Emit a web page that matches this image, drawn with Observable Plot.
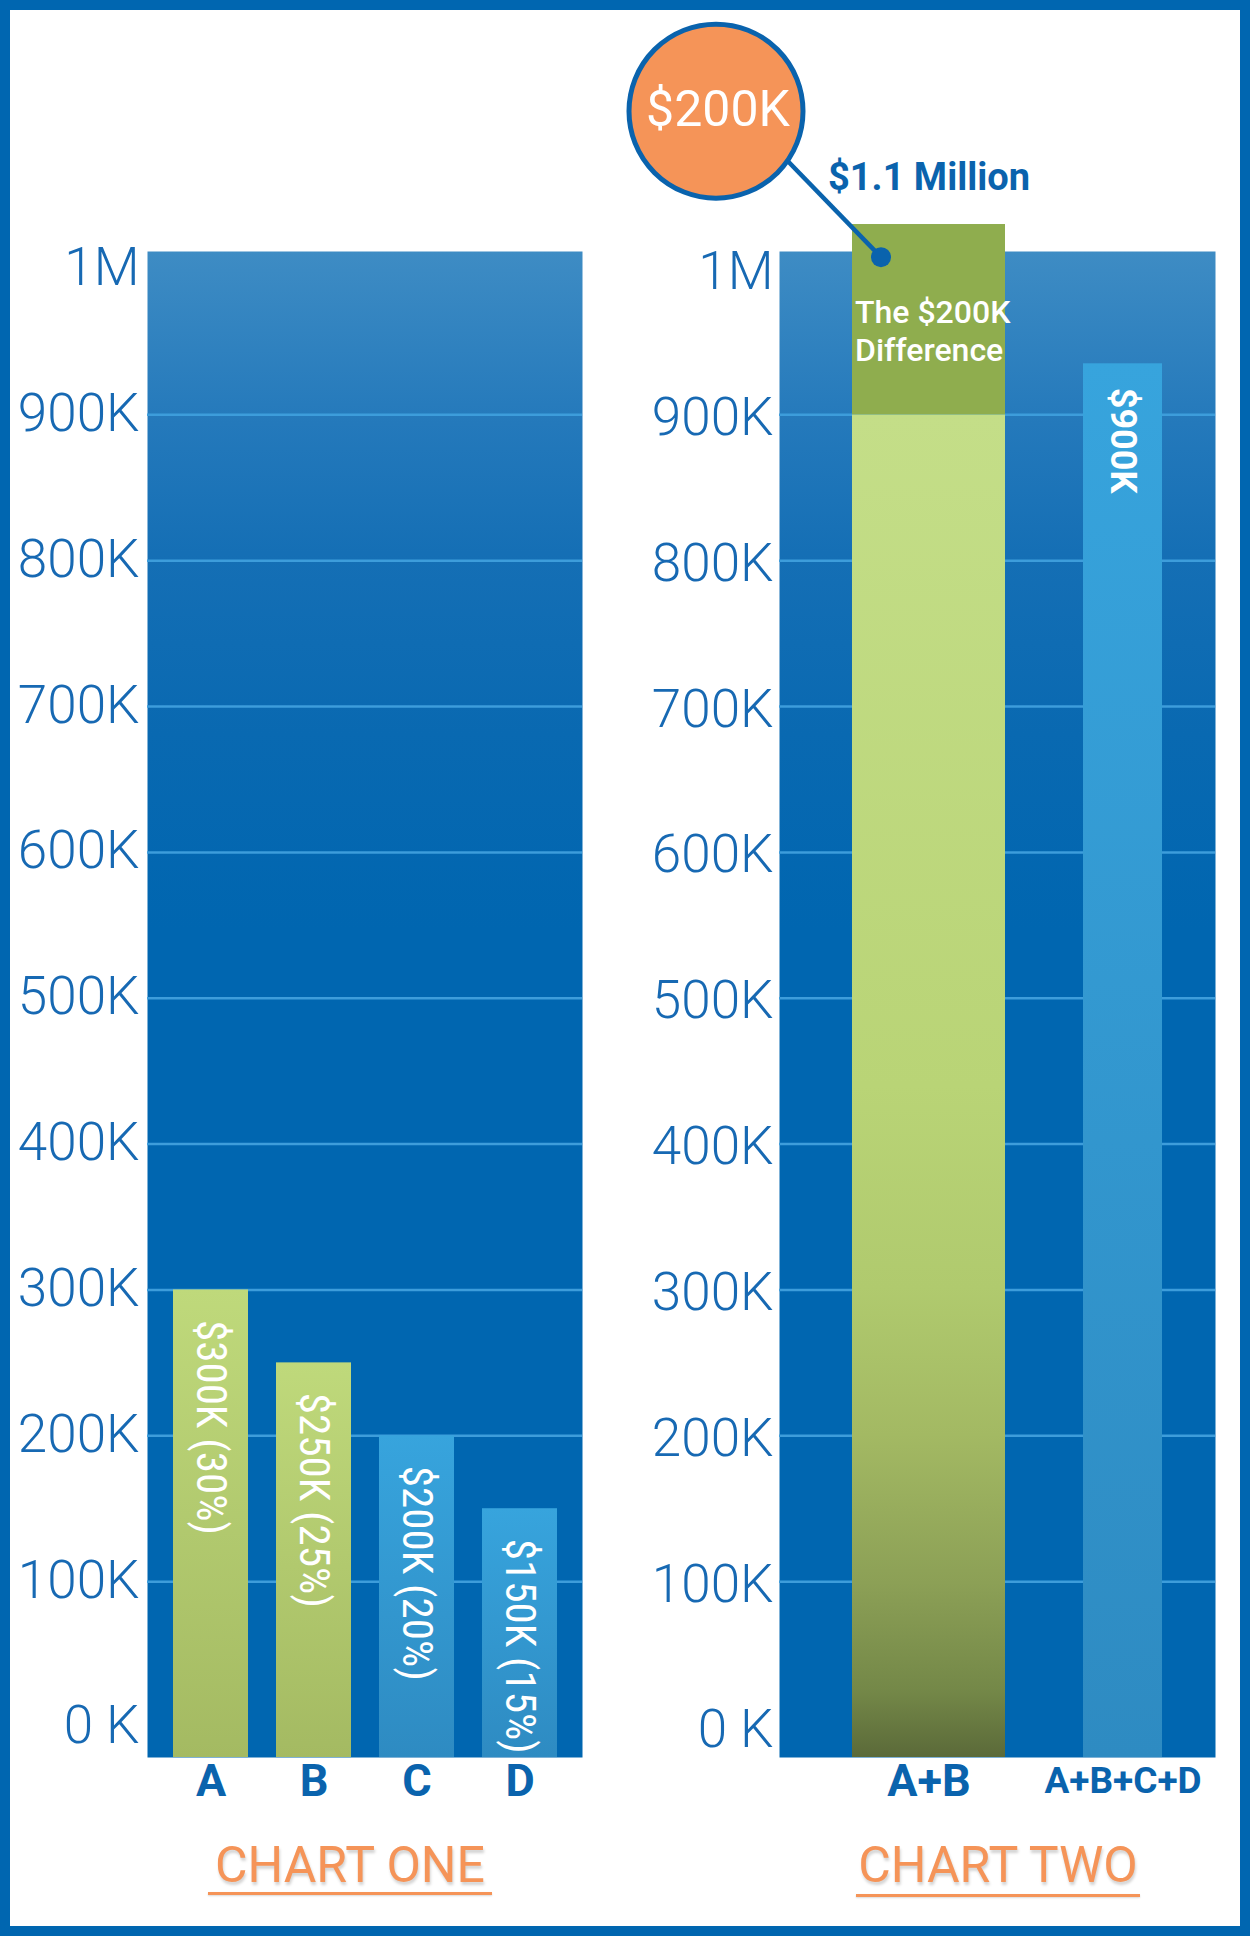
<!DOCTYPE html>
<html>
<head>
<meta charset="utf-8">
<script src="https://cdn.jsdelivr.net/npm/d3@7"></script>
<script src="https://cdn.jsdelivr.net/npm/@observablehq/plot@0.6"></script>
<style>
  html, body { margin: 0; padding: 0; background: #fff; }
  #page { position: relative; width: 1250px; height: 1936px; background: #fff; overflow: hidden; font-family: Roboto, "Noto Sans", sans-serif; }
  #border { position: absolute; left: 0; top: 0; width: 1250px; height: 1936px; box-sizing: border-box; border: 10px solid #0066b0; pointer-events: none; z-index: 10; }
  #page svg { position: absolute; top: 0; overflow: visible; }
  g[aria-label="barlabel"] text { filter: drop-shadow(1px 2px 2px rgba(0,0,0,0.55)); }
  g[aria-label="circlelabel"] text { filter: drop-shadow(2px 3px 4px rgba(90,30,0,0.6)); }
  g[aria-label="catlabel"] text { filter: drop-shadow(1px 3px 2px rgba(0,0,0,0.25)); }
  .title { position: absolute; top: 1840px; font: 400 50px Roboto, sans-serif; line-height: 50px; color: #f59458; transform: translateX(-50%); white-space: nowrap; text-shadow: 1px 3px 3px rgba(0,0,0,0.18); }
  .uline { position: absolute; height: 3px; background: #f59458; box-shadow: 0 1px 2px rgba(0,0,0,0.15); }
</style>
</head>
<body>
<div id="page"><div id="border"></div></div>
<script>
// ---------- data ----------
const cats1 = ["A", "B", "C", "D"];
const vals1 = [300000, 250000, 200000, 150000];
const labels1 = ["$300K (30%)", "$250K (25%)", "$200K (20%)", "$150K (15%)"];
const groups1 = ["green", "green", "blue", "blue"];

const cats2 = ["A+B", "A+B+C+D"];
const abBase = 900000;      // A+B without the difference
const abTop = 1030500;      // top of the A+B bar as drawn
const allTop = 935000;      // top of the A+B+C+D bar as drawn
const allLabel = "$900K";
const diffLabel = "The $200K\nDifference";
const diffLabelY = 958500;
const calloutValue = "$200K";
const calloutTitle = "$1.1 Million";
const calloutY = 1100000;

const yTicks = [0, 100000, 200000, 300000, 400000, 500000, 600000, 700000, 800000, 900000, 1000000];
const yTickLabels = ["0 K", "100K", "200K", "300K", "400K", "500K", "600K", "700K", "800K", "900K", "1M"];
const gridTicks = yTicks.slice(1, -1);
const titles = ["CHART ONE", "CHART TWO"];

// ---------- shared ----------
const yDomain = [-20570, 1012000];
const FONT = "Roboto, 'Noto Sans', sans-serif";
const COND = "'Roboto Condensed', 'Liberation Sans Narrow', Roboto, sans-serif";
const tickData = yTicks.map((v, i) => ({v, label: yTickLabels[i]}));

const defs = `
  <linearGradient id="bgGrad" x1="0" y1="0" x2="0" y2="1">
    <stop offset="0" stop-color="#3e8cc4"/>
    <stop offset="0.114" stop-color="#2479bb"/>
    <stop offset="0.2" stop-color="#156fb5"/>
    <stop offset="0.32" stop-color="#0969b1"/>
    <stop offset="0.45" stop-color="#0066b0"/>
    <stop offset="1" stop-color="#0066b0"/>
  </linearGradient>
  <linearGradient id="gGreen" x1="0" y1="0" x2="0" y2="1">
    <stop offset="0" stop-color="#bfd97b"/>
    <stop offset="1" stop-color="#a4ba62"/>
  </linearGradient>
  <linearGradient id="gBlue" x1="0" y1="0" x2="0" y2="1">
    <stop offset="0" stop-color="#37a4dd"/>
    <stop offset="1" stop-color="#2e8bc2"/>
  </linearGradient>
  <linearGradient id="gAB" x1="0" y1="0" x2="0" y2="1">
    <stop offset="0" stop-color="#c4de88"/>
    <stop offset="0.5" stop-color="#b9d476"/>
    <stop offset="0.65" stop-color="#b0ca6e"/>
    <stop offset="0.76" stop-color="#a3b963"/>
    <stop offset="0.87" stop-color="#8ca056"/>
    <stop offset="0.95" stop-color="#748848"/>
    <stop offset="1" stop-color="#5b6a39"/>
  </linearGradient>`;

function place(svg, left) {
  svg.style.left = left + "px";
  d3.select(svg).insert("defs", ":first-child").html(defs);
  document.getElementById("page").appendChild(svg);
}

// ---------- chart one ----------
const bars1 = cats1.map((c, i) => ({cat: c, value: vals1[i], label: labels1[i], group: groups1[i]}));

const left = Plot.plot({
  width: 625, height: 1820,
  marginTop: 251, marginBottom: 63, marginLeft: 147, marginRight: 43,
  x: {type: "band", domain: cats1, range: [172, 557], paddingInner: 0.274, paddingOuter: 0, axis: null},
  y: {domain: yDomain, axis: null},
  style: {background: "transparent", overflow: "visible"},
  marks: [
    Plot.frame({fill: "url(#bgGrad)"}),
    Plot.ruleY(gridTicks, {stroke: "#3d9ddb", strokeWidth: 2.5}),
    Plot.barY(bars1, {filter: d => d.group === "green", x: "cat", y1: yDomain[0], y2: "value", fill: "url(#gGreen)"}),
    Plot.barY(bars1, {filter: d => d.group === "blue", x: "cat", y1: yDomain[0], y2: "value", fill: "url(#gBlue)"}),
    Plot.text(bars1, {x: "cat", y: "value", text: "label", rotate: 90, textAnchor: "start", dy: 30,
      fontSize: 43, fontFamily: COND, fill: "white", ariaLabel: "barlabel"}),
    Plot.text(tickData, {y: "v", text: "label", frameAnchor: "left", textAnchor: "end", dx: -8, dy: -1,
      fontSize: 53, fontWeight: 300, fontFamily: FONT, fill: "#1769b3"}),
    Plot.text(cats1, {x: d => d, text: d => d, frameAnchor: "bottom", lineAnchor: "middle", dy: 24,
      fontSize: 45, fontWeight: "bold", fontFamily: FONT, fill: "#0a63ad", ariaLabel: "catlabel"})
  ]
});
place(left, 0);

// ---------- chart two ----------
const barsAB = [{cat: cats2[0], y1: yDomain[0], y2: abBase}];
const barsDiff = [{cat: cats2[0], y1: abBase, y2: abTop}];
const barsAll = [{cat: cats2[1], y1: yDomain[0], y2: allTop}];

function connector(index, scales) {
  const x = scales.x, y = scales.y;
  const bw = typeof x.bandwidth === "function" ? x.bandwidth() : 0;
  const ax = x(cats2[0]) + bw / 2, ay = y(calloutY);
  const cx = ax - 213, cy = ay - 12, r = 89, ang = 35 * Math.PI / 180;
  const line = document.createElementNS("http://www.w3.org/2000/svg", "line");
  line.setAttribute("x1", cx + r * Math.cos(ang));
  line.setAttribute("y1", cy + r * Math.sin(ang));
  line.setAttribute("x2", ax - 48);
  line.setAttribute("y2", ay + 134);
  line.setAttribute("stroke", "#0a63ad");
  line.setAttribute("stroke-width", 4.5);
  return line;
}

const right = Plot.plot({
  width: 625, height: 1820,
  marginTop: 251, marginBottom: 63, marginLeft: 154, marginRight: 35,
  x: {type: "band", domain: cats2, range: [226, 575], paddingInner: 0.21, paddingOuter: 0, axis: null},
  y: {domain: yDomain, axis: null},
  style: {background: "transparent", overflow: "visible"},
  marks: [
    Plot.frame({fill: "url(#bgGrad)"}),
    Plot.ruleY(gridTicks, {stroke: "#3d9ddb", strokeWidth: 2.5}),
    Plot.barY(barsAB, {x: "cat", y1: "y1", y2: "y2", fill: "url(#gAB)"}),
    Plot.barY(barsDiff, {x: "cat", y1: "y1", y2: "y2", fill: "#8fad4e"}),
    Plot.barY(barsAll, {x: "cat", y1: "y1", y2: "y2", fill: "url(#gBlue)", insetLeft: 37, insetRight: 37}),
    Plot.text(barsAll, {x: "cat", y: "y2", text: [allLabel], rotate: 90, textAnchor: "start", dy: 24,
      fontSize: 36, fontWeight: "bold", fontFamily: FONT, fill: "white", ariaLabel: "barlabel"}),
    Plot.text(barsDiff, {x: "cat", y: () => diffLabelY, text: [diffLabel], textAnchor: "start", dx: -74, lineHeight: 1.2,
      fontSize: 32, fontWeight: 500, fontFamily: FONT, fill: "white", ariaLabel: "barlabel"}),
    Plot.text(tickData, {y: "v", text: "label", frameAnchor: "left", textAnchor: "end", dx: -6, dy: 3,
      fontSize: 53, fontWeight: 300, fontFamily: FONT, fill: "#1769b3"}),
    Plot.text(cats2, {x: d => d, text: d => d, frameAnchor: "bottom", lineAnchor: "middle", dy: 24,
      fontSize: d => d.length > 3 ? 37 : 45, fontWeight: "bold", fontFamily: FONT, fill: "#0a63ad", ariaLabel: "catlabel"}),
    connector,
    Plot.dot([cats2[0]], {x: d => d, y: () => calloutY, dx: -48, dy: 134, r: 10, fill: "#0a63ad"}),
    Plot.dot([cats2[0]], {x: d => d, y: () => calloutY, dx: -213, dy: -12, r: 87, fill: "#f59458", stroke: "#0a63ad", strokeWidth: 5}),
    Plot.text([calloutValue], {x: () => cats2[0], y: () => calloutY, text: d => d, dx: -211, dy: -13,
      fontSize: 50, fontFamily: FONT, fill: "white", ariaLabel: "circlelabel"}),
    Plot.text([calloutTitle], {x: () => cats2[0], y: () => calloutY, text: d => d, textAnchor: "start", dx: -101, dy: 55,
      fontSize: 38, fontWeight: "bold", fontFamily: FONT, fill: "#0a63ad"})
  ]
});
place(right, 625);

// ---------- titles ----------
const page = document.getElementById("page");
[[titles[0], 350, 208, 284, 1892], [titles[1], 998, 856, 284, 1894]].forEach(([t, cx, ux, uw, uy]) => {
  const d = document.createElement("div");
  d.className = "title"; d.textContent = t; d.style.left = cx + "px";
  page.appendChild(d);
  const u = document.createElement("div");
  u.className = "uline"; u.style.left = ux + "px"; u.style.width = uw + "px"; u.style.top = uy + "px";
  page.appendChild(u);
});
</script>
</body>
</html>
